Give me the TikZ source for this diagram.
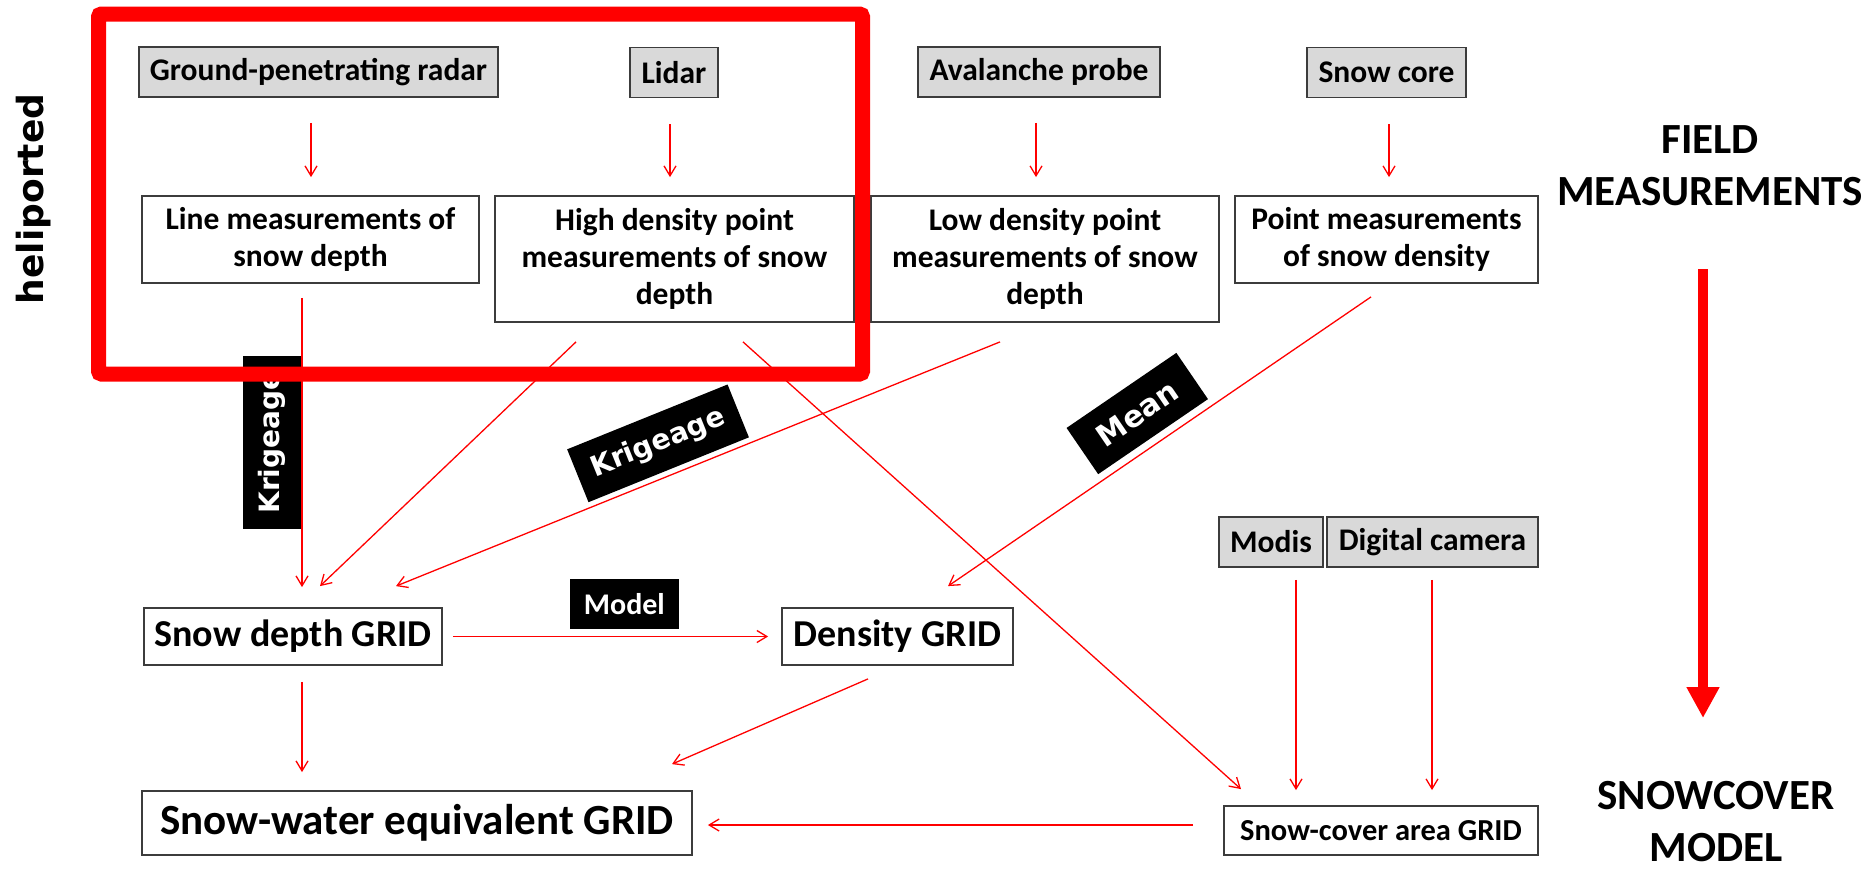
\documentclass[tikz,border=0pt]{standalone}
\usepackage{fontspec}
\setmainfont{Carlito}
\newfontfamily\dejavu{DejaVu Sans}
\usepackage{tikz}
\usetikzlibrary{arrows.meta, calc}
\definecolor{pred}{RGB}{255,0,0}
\definecolor{boxgray}{RGB}{217,217,217}
\definecolor{edgegray}{RGB}{60,60,60}

\begin{document}
\begin{tikzpicture}[
  x=1pt, y=-1pt,
  src/.style={draw=edgegray, fill=boxgray, line width=1.8pt, inner sep=0pt,
              minimum height=50pt, font=\fontsize{31.5}{37}\selectfont\bfseries},
  meas/.style={draw=edgegray, fill=white, line width=1.8pt, inner sep=0pt,
               align=center, font=\fontsize{31.5}{37}\selectfont\bfseries},
  gridbox/.style={draw=edgegray, fill=white, line width=1.8pt, inner sep=0pt,
                  font=\fontsize{38}{44}\selectfont\bfseries},
  tagbox/.style={fill=black, text=white, inner sep=0pt,
                 font=\dejavu\bfseries\fontsize{28}{32}\selectfont},
  arr/.style={draw=pred, line width=1.3pt, -{Straight Barb[length=10pt,width=12pt]}},
  bigarr/.style={draw=pred, line width=10pt, -{Triangle[length=31pt,width=31pt]}},
  heading/.style={align=center, font=\fontsize{43}{52}\selectfont\bfseries}
]
  \useasboundingbox (0,0) rectangle (1873,868);

  % instruments
  \node[src, minimum width=359pt] (gpr)   at (318.5,72)  {Ground-penetrating radar};
  \node[src, minimum width=88pt]  (lidar) at (674,72.5)  {Lidar};
  \node[src, minimum width=242pt] (probe) at (1039,72)   {Avalanche probe};
  \node[src, minimum width=159pt] (core)  at (1386.5,72.5) {Snow core};

  % field measurements
  \node[meas, minimum width=337pt, minimum height=87pt]  (linemeas)  at (310.5,239.5) {Line measurements of\\snow depth};
  \node[meas, minimum width=359pt, minimum height=126pt] (highdens)  at (674.5,259)   {High density point\\measurements of snow\\depth};
  \node[meas, minimum width=348pt, minimum height=126pt] (lowdens)   at (1045,259)    {Low density point\\measurements of snow\\depth};
  \node[meas, minimum width=303pt, minimum height=87pt]  (pointdens) at (1386.5,239.5) {Point measurements\\of snow density};

  % grids
  \node[gridbox, minimum width=298pt, minimum height=57pt] (depthgrid) at (293,636.5)   {Snow depth GRID};
  \node[gridbox, minimum width=231pt, minimum height=57pt] (densgrid)  at (897.5,636.5) {Density GRID};
  \node[gridbox, minimum width=550pt, minimum height=64pt,
        font=\fontsize{43}{48}\selectfont\bfseries] (swegrid) at (417,823) {Snow-water equivalent GRID};
  \node[src, minimum width=104pt] (modis)  at (1271,542)   {Modis};
  \node[src, minimum width=211pt] (camera) at (1432.5,542) {Digital camera};
  \node[gridbox, minimum width=314pt, minimum height=49pt,
        font=\fontsize{30.5}{35}\selectfont\bfseries] (scagrid) at (1381,830.5) {Snow-cover area GRID};

  % side titles
  \node[heading] (field)     at (1710,166) {FIELD\\MEASUREMENTS};
  \node[heading] (snowcover) at (1716,822) {SNOWCOVER\\MODEL};
  \node[rotate=90, font=\dejavu\bfseries\fontsize{36}{40}\selectfont] (heli) at (33.5,199) {heliported};

  % sources to measurements
  \draw[arr] ($(gpr.south)+(-7.5,25)$)  -- ($(linemeas.north)+(0.5,-18)$);
  \draw[arr] ($(lidar.south)+(-4,26)$)  -- ($(highdens.north)+(-4.5,-18)$);
  \draw[arr] ($(probe.south)+(-3,25)$)  -- ($(lowdens.north)+(-9,-18)$);
  \draw[arr] ($(core.south)+(2.5,26)$)  -- ($(pointdens.north)+(2.5,-18)$);

  % measurements to grids
  \draw[arr] ($(linemeas.south)+(-8.5,14)$) --
    node[tagbox, rotate=90, anchor=south, minimum width=173pt, minimum height=58pt] (krigA) {Krigeage}
    ($(depthgrid.north)+(9,-20)$);
  \draw[arr] ($(highdens.south)+(-98.5,19)$) -- ($(depthgrid.north)+(27,-21)$);
  \draw[arr] ($(lowdens.south)+(-45,19)$) --
    node[tagbox, sloped, above=5pt, pos=0.545, minimum width=173pt, minimum height=57pt] (krigB) {Krigeage}
    ($(depthgrid.north)+(103,-21)$);
  \draw[arr] ($(pointdens.south)+(-15.5,13)$) --
    node[tagbox, sloped, above=7pt, pos=0.505, minimum width=133pt, minimum height=56pt,
         font=\dejavu\bfseries\fontsize{30}{34}\selectfont] (mean) {Mean}
    ($(densgrid.north)+(50.5,-21)$);
  \draw[arr] ($(highdens.south)+(68.5,19)$) -- ($(scagrid.north)+(-140,-16)$);

  % grids to grids
  \draw[arr] ($(depthgrid.east)+(10,0)$) --
    node[tagbox, above=7pt, pos=0.544, minimum width=109pt, minimum height=50pt,
         font=\fontsize{30}{36}\selectfont\bfseries] (model) {Model}
    ($(densgrid.west)+(-13,0)$);
  \draw[arr] ($(depthgrid.south)+(9,16)$)    -- ($(swegrid.north)+(-115,-18)$);
  \draw[arr] ($(densgrid.south)+(-29.5,13)$) -- ($(swegrid.north)+(255,-26)$);
  \draw[arr] ($(scagrid.west)+(-30,-5.5)$)   -- ($(swegrid.east)+(15,2)$);
  \draw[arr] ($(modis.south)+(25,12)$)       -- ($(scagrid.north)+(-85,-15)$);
  \draw[arr] ($(camera.south)+(-0.5,12)$)    -- ($(scagrid.north)+(51,-15)$);

  % field to model
  \draw[bigarr] ($(field.center)+(-7,103)$) -- ($(snowcover.center)+(-13,-104)$);

  % heliported frame
  \draw[pred, line width=15pt, rounded corners=3pt] (98.5,14) rectangle (862.5,374);
\end{tikzpicture}
\end{document}
